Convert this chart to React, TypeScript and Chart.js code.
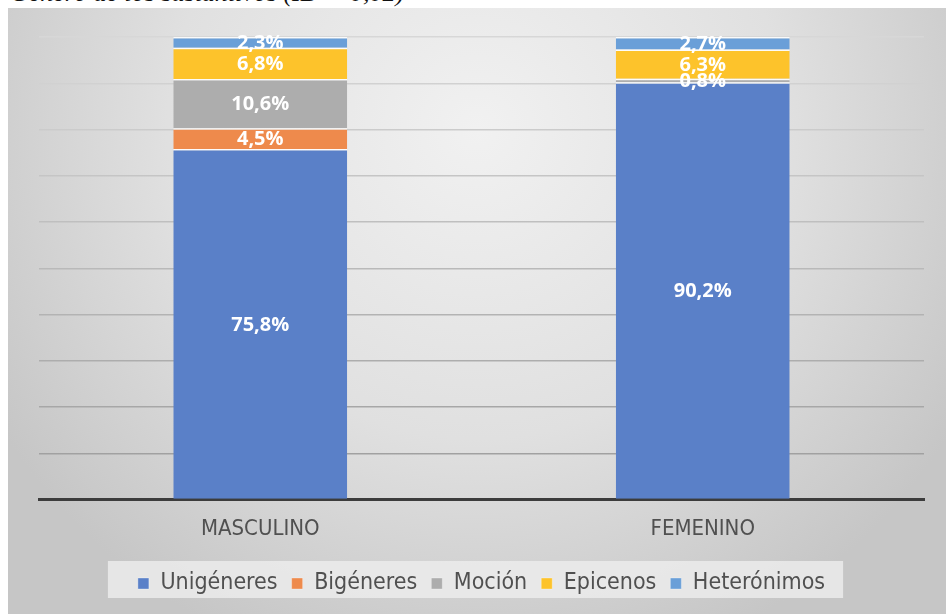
import React, { useEffect, useRef } from 'react';
import { Chart, registerables } from 'chart.js';

Chart.register(...registerables);

const titleText = 'Género de los sustantivos (ID = 0,02)';
const categories = ['MASCULINO', 'FEMENINO'];
const seriesNames = ['Unigéneres', 'Bigéneres', 'Moción', 'Epicenos', 'Heterónimos'];
const unigeneres = [75.8, 90.2];
const bigeneres = [4.5, 0];
const mocion = [10.6, 0.8];
const epicenos = [6.8, 6.3];
const heteronimos = [2.3, 2.7];
const yMin = 0;
const yMax = 100;
const yStep = 10;

const seriesValues = [unigeneres, bigeneres, mocion, epicenos, heteronimos];
const seriesColors = ['#5A80C8', '#EE8A4C', '#ADADAD', '#FDC32B', '#6A9FD8'];

const labelFont = "'Liberation Sans Narrow', 'DejaVu Sans Condensed', 'Liberation Sans', sans-serif";

const bgPlugin = {
  id: 'bgPlugin',
  beforeDraw(chart: any) {
    const { ctx, width, height } = chart;
    ctx.save();
    const cx = width * 0.5;
    const cy = height * 0.2;
    const g = ctx.createRadialGradient(cx, cy, 0, cx, cy, width * 0.6);
    g.addColorStop(0, '#f1f1f1');
    g.addColorStop(0.55, '#e0e0e0');
    g.addColorStop(1, '#c6c6c6');
    ctx.fillStyle = g;
    ctx.fillRect(0, 0, width, height);
    const lg = chart.legend;
    if (lg && lg.legendHitBoxes && lg.legendHitBoxes.length) {
      const hb = lg.legendHitBoxes;
      const minX = Math.min(...hb.map((h: any) => h.left));
      const maxX = Math.max(...hb.map((h: any) => h.left + h.width));
      const top = Math.min(...hb.map((h: any) => h.top));
      const bot = Math.max(...hb.map((h: any) => h.top + h.height));
      const my = (top + bot) / 2;
      ctx.fillStyle = 'rgba(238,238,238,0.8)';
      ctx.fillRect(minX - 30, my - 22.5, maxX - minX + 48, 37);
    }
    ctx.restore();
  },
};

const segLabelPlugin = {
  id: 'segLabelPlugin',
  afterDatasetsDraw(chart: any) {
    const ctx = chart.ctx;
    ctx.save();
    ctx.font = "bold 20px 'Open Sans', sans-serif";
    ctx.fillStyle = '#ffffff';
    ctx.textAlign = 'center';
    ctx.textBaseline = 'middle';
    chart.data.datasets.forEach((ds: any, di: number) => {
      const meta = chart.getDatasetMeta(di);
      meta.data.forEach((el: any, i: number) => {
        const v = ds.data[i];
        if (!v) return;
        const p = el.getProps(['x', 'y', 'base'], true);
        ctx.fillText(v.toFixed(1).replace('.', ',') + '%', p.x, (p.y + p.base) / 2 + 1);
      });
    });
    ctx.restore();
  },
};

export default function App() {
  const ref = useRef<HTMLCanvasElement | null>(null);

  useEffect(() => {
    if (!ref.current) return;
    const chart = new Chart(ref.current, {
      type: 'bar',
      data: {
        labels: categories,
        datasets: seriesNames.map((name, i) => ({
          label: name,
          data: seriesValues[i],
          backgroundColor: seriesColors[i],
          borderColor: 'rgba(255,255,255,0.85)',
          borderWidth: { top: 1.5, bottom: 0, left: 0, right: 0 },
          borderSkipped: false,
          barPercentage: 0.393,
          categoryPercentage: 1,
        })),
      },
      options: {
        responsive: false,
        animation: false,
        layout: { padding: { left: 31, right: 22, top: 29, bottom: 9 } },
        scales: {
          x: {
            stacked: true,
            grid: { display: false, drawTicks: false },
            border: { display: true, color: '#3c3c3c', width: 3 },
            ticks: { color: '#505050', font: { family: labelFont, size: 22 }, padding: 16 },
          },
          y: {
            stacked: true,
            min: yMin,
            max: yMax,
            ticks: { display: false, stepSize: yStep },
            grid: {
              drawTicks: false,
              lineWidth: 1.5,
              color: (c: any) => {
                const v = c.tick ? c.tick.value : 0;
                const shade = Math.round(215 - (100 - v) * 0.6);
                return `rgb(${shade},${shade},${shade})`;
              },
            },
            border: { display: false },
          },
        },
        plugins: {
          legend: {
            position: 'bottom',
            labels: {
              boxWidth: 11,
              boxHeight: 11,
              padding: 14,
              color: '#505050',
              font: { family: labelFont, size: 23 },
            },
          },
          tooltip: { enabled: false },
        },
      },
      plugins: [bgPlugin, segLabelPlugin],
    } as any);
    return () => chart.destroy();
  }, []);

  return (
    <div style={{ position: 'fixed', left: 0, top: 0, width: 946, height: 614, overflow: 'hidden', background: '#fff' }}>
      <div
        style={{
          position: 'absolute',
          left: 10,
          top: -20,
          fontFamily: "'Liberation Serif', 'Times New Roman', serif",
          fontStyle: 'italic',
          fontSize: 26,
          lineHeight: '26px',
          whiteSpace: 'nowrap',
          color: '#111',
        }}
      >
        {titleText}
      </div>
      <canvas
        ref={ref}
        width={938}
        height={606}
        style={{ position: 'absolute', left: 8, top: 8, width: 938, height: 606 }}
      />
    </div>
  );
}
